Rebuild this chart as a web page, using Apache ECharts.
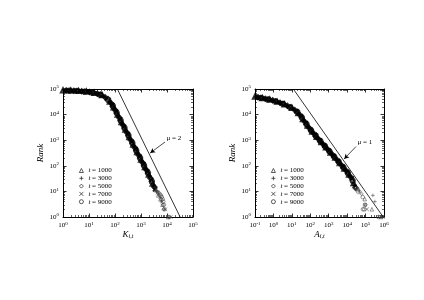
<!DOCTYPE html>
<html><head><meta charset="utf-8">
<script src="https://cdn.jsdelivr.net/npm/echarts@6/dist/echarts.min.js"></script>
<style>html,body{margin:0;padding:0;background:#fff}#c{width:424px;height:300px}</style>
</head><body><div id="c"></div>
<script>
// ---- data ----
const seriesNames = ['t = 1000', 't = 3000', 't = 5000', 't = 7000', 't = 9000'];
// Left panel: [K_{i,t}, Rank] — dense main body and sparse tail
const kBand1000 = [[1,89100],[2,86700],[3.98,83600],[7.94,79100],[15.8,70800],[31.6,57500],[63.1,32100],[89.1,19100],[126,10000],[178,5050],[251,2570],[355,1310],[501,668],[708,341],[1000,174],[1410,89],[2000,45],[2820,20]];
const kBand3000 = [[1.15,88700],[2.29,86300],[4.57,82600],[9.12,78200],[18.2,68700],[36.3,52200],[67.6,29700],[95.5,16800],[135,8710],[191,4410],[269,2250],[380,1150],[537,585],[759,298],[1070,152],[1510,77],[2140,39],[3020,17]];
const kBand5000 = [[1.32,88100],[2.63,85700],[5.25,81700],[10.5,76900],[20.9,65800],[41.7,47400],[72.4,27100],[102,14900],[145,7590],[204,3850],[288,1960],[407,1000],[575,511],[813,261],[1150,133],[1620,68],[2290,33],[3240,15]];
const kBand7000 = [[1.51,87700],[3.02,85300],[6.03,80900],[12,74800],[24,62800],[47.9,43100],[77.6,24100],[110,13100],[155,6610],[219,3370],[309,1720],[437,875],[617,447],[871,228],[1230,116],[1740,59],[2450,28],[3470,12]];
const kBand9000 = [[1.74,87100],[3.47,84500],[6.92,80000],[13.8,72800],[27.5,60100],[55,37600],[83.2,21400],[117,11500],[166,5770],[234,2940],[331,1500],[468,765],[661,390],[933,199],[1320,101],[1860,52],[2630,24]];
const kTail1000 = [[3900,11],[4600,7],[5600,5],[6700,3],[11000,1]];
const kTail3000 = [[4000,10],[4800,8],[6000,4],[7800,2],[13000,1]];
const kTail5000 = [[4200,10],[5000,7],[6000,5],[7000,3],[7400,2]];
const kTail7000 = [[4300,9],[5500,6],[6500,4],[8500,2],[14000,1]];
const kTail9000 = [[4500,9],[5200,8],[5800,7],[6300,6],[6800,5],[7200,4],[7600,3],[8000,2],[12000,1]];
// Right panel: [A_{i,t}, Rank]
const aBand1000 = [[0.1,50100],[0.251,44100],[0.631,38200],[1.58,31800],[3.98,24900],[10,18200],[22.4,11400],[39.8,6680],[70.8,3720],[126,2170],[224,1340],[398,832],[708,525],[1260,330],[2240,206],[3980,127],[7080,77],[12600,45],[22400,21]];
const aBand3000 = [[0.12,48900],[0.302,43000],[0.759,37100],[1.91,30400],[4.79,23400],[12,16500],[25.1,10400],[44.7,5930],[79.4,3310],[141,1970],[251,1210],[447,759],[794,479],[1410,300],[2510,187],[4470,115],[7940,70],[14100,40],[25100,17]];
const aBand5000 = [[0.145,47600],[0.363,41700],[0.912,36000],[2.29,29100],[5.75,22000],[14.5,15000],[28.2,9400],[50.1,5250],[89.1,2950],[158,1790],[282,1100],[501,692],[891,437],[1580,273],[2820,170],[5010,104],[8910,64],[15800,36],[28200,14]];
const aBand7000 = [[0.174,46400],[0.437,40600],[1.1,34700],[2.75,27800],[6.92,20600],[17.4,13600],[31.6,8510],[56.2,4680],[100,2630],[178,1620],[316,1000],[562,631],[1000,398],[1780,248],[3160,155],[5620,94],[10000,58],[17800,32]];
const aBand9000 = [[0.209,45200],[0.525,39400],[1.32,33200],[3.31,26500],[8.32,19400],[20,12600],[35.5,7540],[63.1,4170],[112,2390],[200,1470],[355,912],[631,575],[1120,362],[2000,226],[3550,140],[6310,86],[11200,51],[20000,26]];
const aTail1000 = [[40000,12],[90000,5],[220000,2],[700000,1]];
const aTail3000 = [[45000,11],[250000,7],[320000,4],[800000,1]];
const aTail5000 = [[35000,13],[60000,8],[100000,3],[600000,1]];
const aTail7000 = [[50000,9],[93000,3],[120000,2],[900000,1]];
const aTail9000 = [[38000,10],[70000,6],[93000,3],[72000,2],[85000,2],[500000,1]];
// reference power-law lines
const kRefLine = [[123,100000],[32000,1]];
const aRefLine = [[12,100000],[910000,1]];
// annotation arrows [start, end] and label anchors
const kArrow = [[8400,850],[2250,316]];
const kLabelAt = [9600,1230];
const aArrow = [[30200,564],[6900,186]];
const aLabelAt = [37000,813];
// tick exponents (labels 10^n)
const kExp = [0,1,2,3,4,5];
const aExp = [-1,0,1,2,3,4,5,6];
const rankExp = [0,1,2,3,4,5];

// ---- chart ----
const FONT = 'Liberation Serif';
const symbols = ['triangle','path://M5,0L5,10M0,5L10,5','diamond','path://M0,0L10,10M10,0L0,10','circle'];
const leftBand = [kBand1000,kBand3000,kBand5000,kBand7000,kBand9000];
const leftTail = [kTail1000,kTail3000,kTail5000,kTail7000,kTail9000];
const rightBand = [aBand1000,aBand3000,aBand5000,aBand7000,aBand9000];
const rightTail = [aTail1000,aTail3000,aTail5000,aTail7000,aTail9000];

const supFmt = v => '{b|10}{s|' + Math.round(Math.log10(v)) + '}';
const labelRich = {b:{fontSize:7,fontFamily:FONT,color:'#000'}, s:{fontSize:5,fontFamily:FONT,color:'#000',verticalAlign:'top',padding:[0,0,4,0]}};

function mkAxis(gi, exps, pos, show) {
  return {
    type:'log', logBase:10, gridIndex:gi, position:pos,
    min: Math.pow(10, exps[0]), max: Math.pow(10, exps[exps.length-1]),
    splitNumber: exps.length-1,
    axisLine:{show:true, onZero:false, lineStyle:{color:'#000', width:1}},
    axisTick:{show:true, inside:true, length:3.5, lineStyle:{color:'#000', width:0.8}},
    minorTick:{show:true, splitNumber:9, length:2, lineStyle:{color:'#000', width:0.6}},
    splitLine:{show:false},
    axisLabel:{show:show, formatter:supFmt, rich:labelRich, margin:4, color:'#000'}
  };
}
const nameRich = {rich:{k:{fontSize:9,fontFamily:FONT,fontStyle:'italic',color:'#000'},s:{fontSize:6,fontFamily:FONT,fontStyle:'italic',color:'#000',verticalAlign:'bottom',padding:[5,0,0,0]}}};
const xAxes = [
  Object.assign(mkAxis(0,kExp,'bottom',true),{name:'{k|K}{s|i,t}', nameLocation:'middle', nameGap:8, nameTextStyle:nameRich}),
  mkAxis(0,kExp,'top',false),
  Object.assign(mkAxis(1,aExp,'bottom',true),{name:'{k|A}{s|i,t}', nameLocation:'middle', nameGap:8, nameTextStyle:nameRich}),
  mkAxis(1,aExp,'top',false)
];
const yName = {name:'Rank', nameLocation:'middle', nameGap:11, nameRotate:90, nameTextStyle:{fontSize:9, fontStyle:'italic', fontFamily:FONT, color:'#000'}};
const yAxes = [
  Object.assign(mkAxis(0,rankExp,'left',true), yName),
  mkAxis(0,rankExp,'right',false),
  Object.assign(mkAxis(1,rankExp,'left',true), yName),
  mkAxis(1,rankExp,'right',false)
];

const series = [];
[[leftBand,leftTail],[rightBand,rightTail]].forEach((pair, panel) => {
  pair[0].forEach((d, i) => {
    series.push({
      name: seriesNames[i], type:'scatter', xAxisIndex: panel*2, yAxisIndex: panel*2,
      data: d, symbol: symbols[i], symbolSize: 4.2,
      itemStyle:{color:'rgba(0,0,0,0)', borderColor:'#000', borderWidth:2},
      emphasis:{disabled:true}, animation:false
    });
  });
  pair[1].forEach((d, i) => {
    series.push({
      name: seriesNames[i], type:'scatter', xAxisIndex: panel*2, yAxisIndex: panel*2,
      data: d, symbol: symbols[i], symbolSize: 3.6,
      itemStyle:{color:'rgba(0,0,0,0)', borderColor:'#444', borderWidth:0.7},
      emphasis:{disabled:true}, animation:false
    });
  });
});
function refLine(panel, data, arrow, labelAt, text) {
  return {
    type:'line', xAxisIndex: panel*2, yAxisIndex: panel*2, data: data, symbol:'none',
    lineStyle:{color:'#000', width:0.8}, animation:false, silent:true,
    markLine:{silent:true, symbol:['none','arrow'], symbolSize:[4,5], animation:false,
      lineStyle:{color:'#000', width:0.7, type:'solid'}, label:{show:false},
      data:[[{coord:arrow[0]},{coord:arrow[1]}]]},
    markPoint:{silent:true, animation:false, symbol:'circle', symbolSize:0,
      data:[{coord:labelAt}],
      label:{show:true, position:'right', distance:0, formatter:text, fontSize:7, fontFamily:FONT, color:'#000'}}
  };
}
series.push(refLine(0, kRefLine, kArrow, kLabelAt, 'μ = 2'));
series.push(refLine(1, aRefLine, aArrow, aLabelAt, 'μ = 1'));

const legendBase = {
  orient:'vertical', data: seriesNames, itemWidth:4, itemHeight:4, itemGap:0.8, padding:0, selectedMode:false,
  formatter: n => '{i|t}' + n.slice(1),
  textStyle:{fontSize:7, fontFamily:FONT, color:'#000', lineHeight:7,
    rich:{i:{fontSize:7, fontStyle:'italic', fontFamily:FONT, color:'#000', lineHeight:7}}},
  itemStyle:{borderWidth:0.8, borderColor:'#000'}
};

const chart = echarts.init(document.getElementById('c'), null, {renderer:'canvas'});
chart.setOption({
  backgroundColor:'#fff',
  animation:false,
  grid:[{left:63, top:89, width:130, height:128},{left:255, top:89, width:129, height:128}],
  xAxis: xAxes, yAxis: yAxes,
  legend:[Object.assign({left:79, top:167}, legendBase), Object.assign({left:271, top:167}, legendBase)],
  series: series
});
</script></body></html>
